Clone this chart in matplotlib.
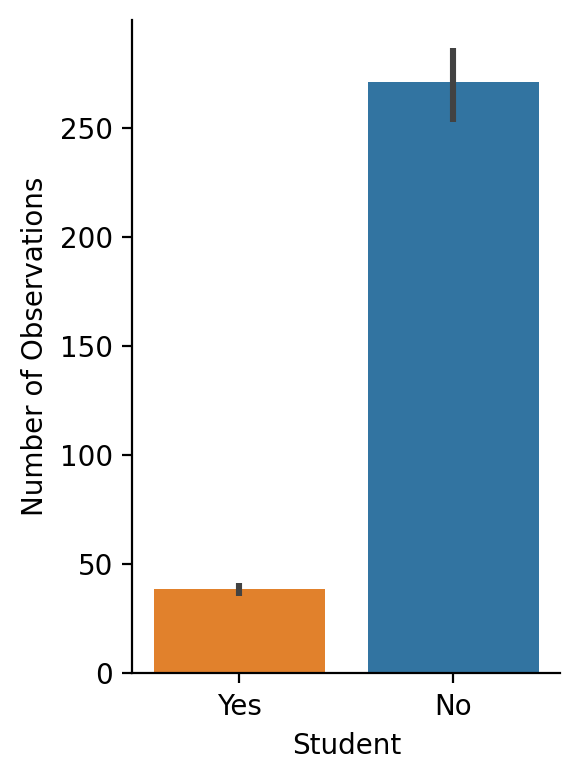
import matplotlib.pyplot as plt

# Values
students = ['Yes', 'No']
counts = [38.8, 271.3]
ci_low = [35.3, 252.9]
ci_high = [41.2, 287.0]
colors = ['#e1812c', '#3274a1']


def main():
    fig, ax = plt.subplots(figsize=(2.9, 3.9), dpi=200)

    x = list(range(len(students)))
    ax.bar(x, counts, width=0.8, color=colors)
    for xi, lo, hi in zip(x, ci_low, ci_high):
        ax.plot([xi, xi], [lo, hi], color='#424242', lw=2.2, solid_capstyle='butt')

    ax.set_xticks(x)
    ax.set_xticklabels(students)
    ax.set_xlim(-0.5, 1.5)
    ax.set_ylim(0, 299.6)
    ax.set_xlabel('Student')
    ax.set_ylabel('Number of Observations')
    ax.spines['top'].set_visible(False)
    ax.spines['right'].set_visible(False)

    fig.subplots_adjust(left=0.228, right=0.966, bottom=0.137, top=0.974)
    fig.savefig('out.png')


if __name__ == '__main__':
    main()
